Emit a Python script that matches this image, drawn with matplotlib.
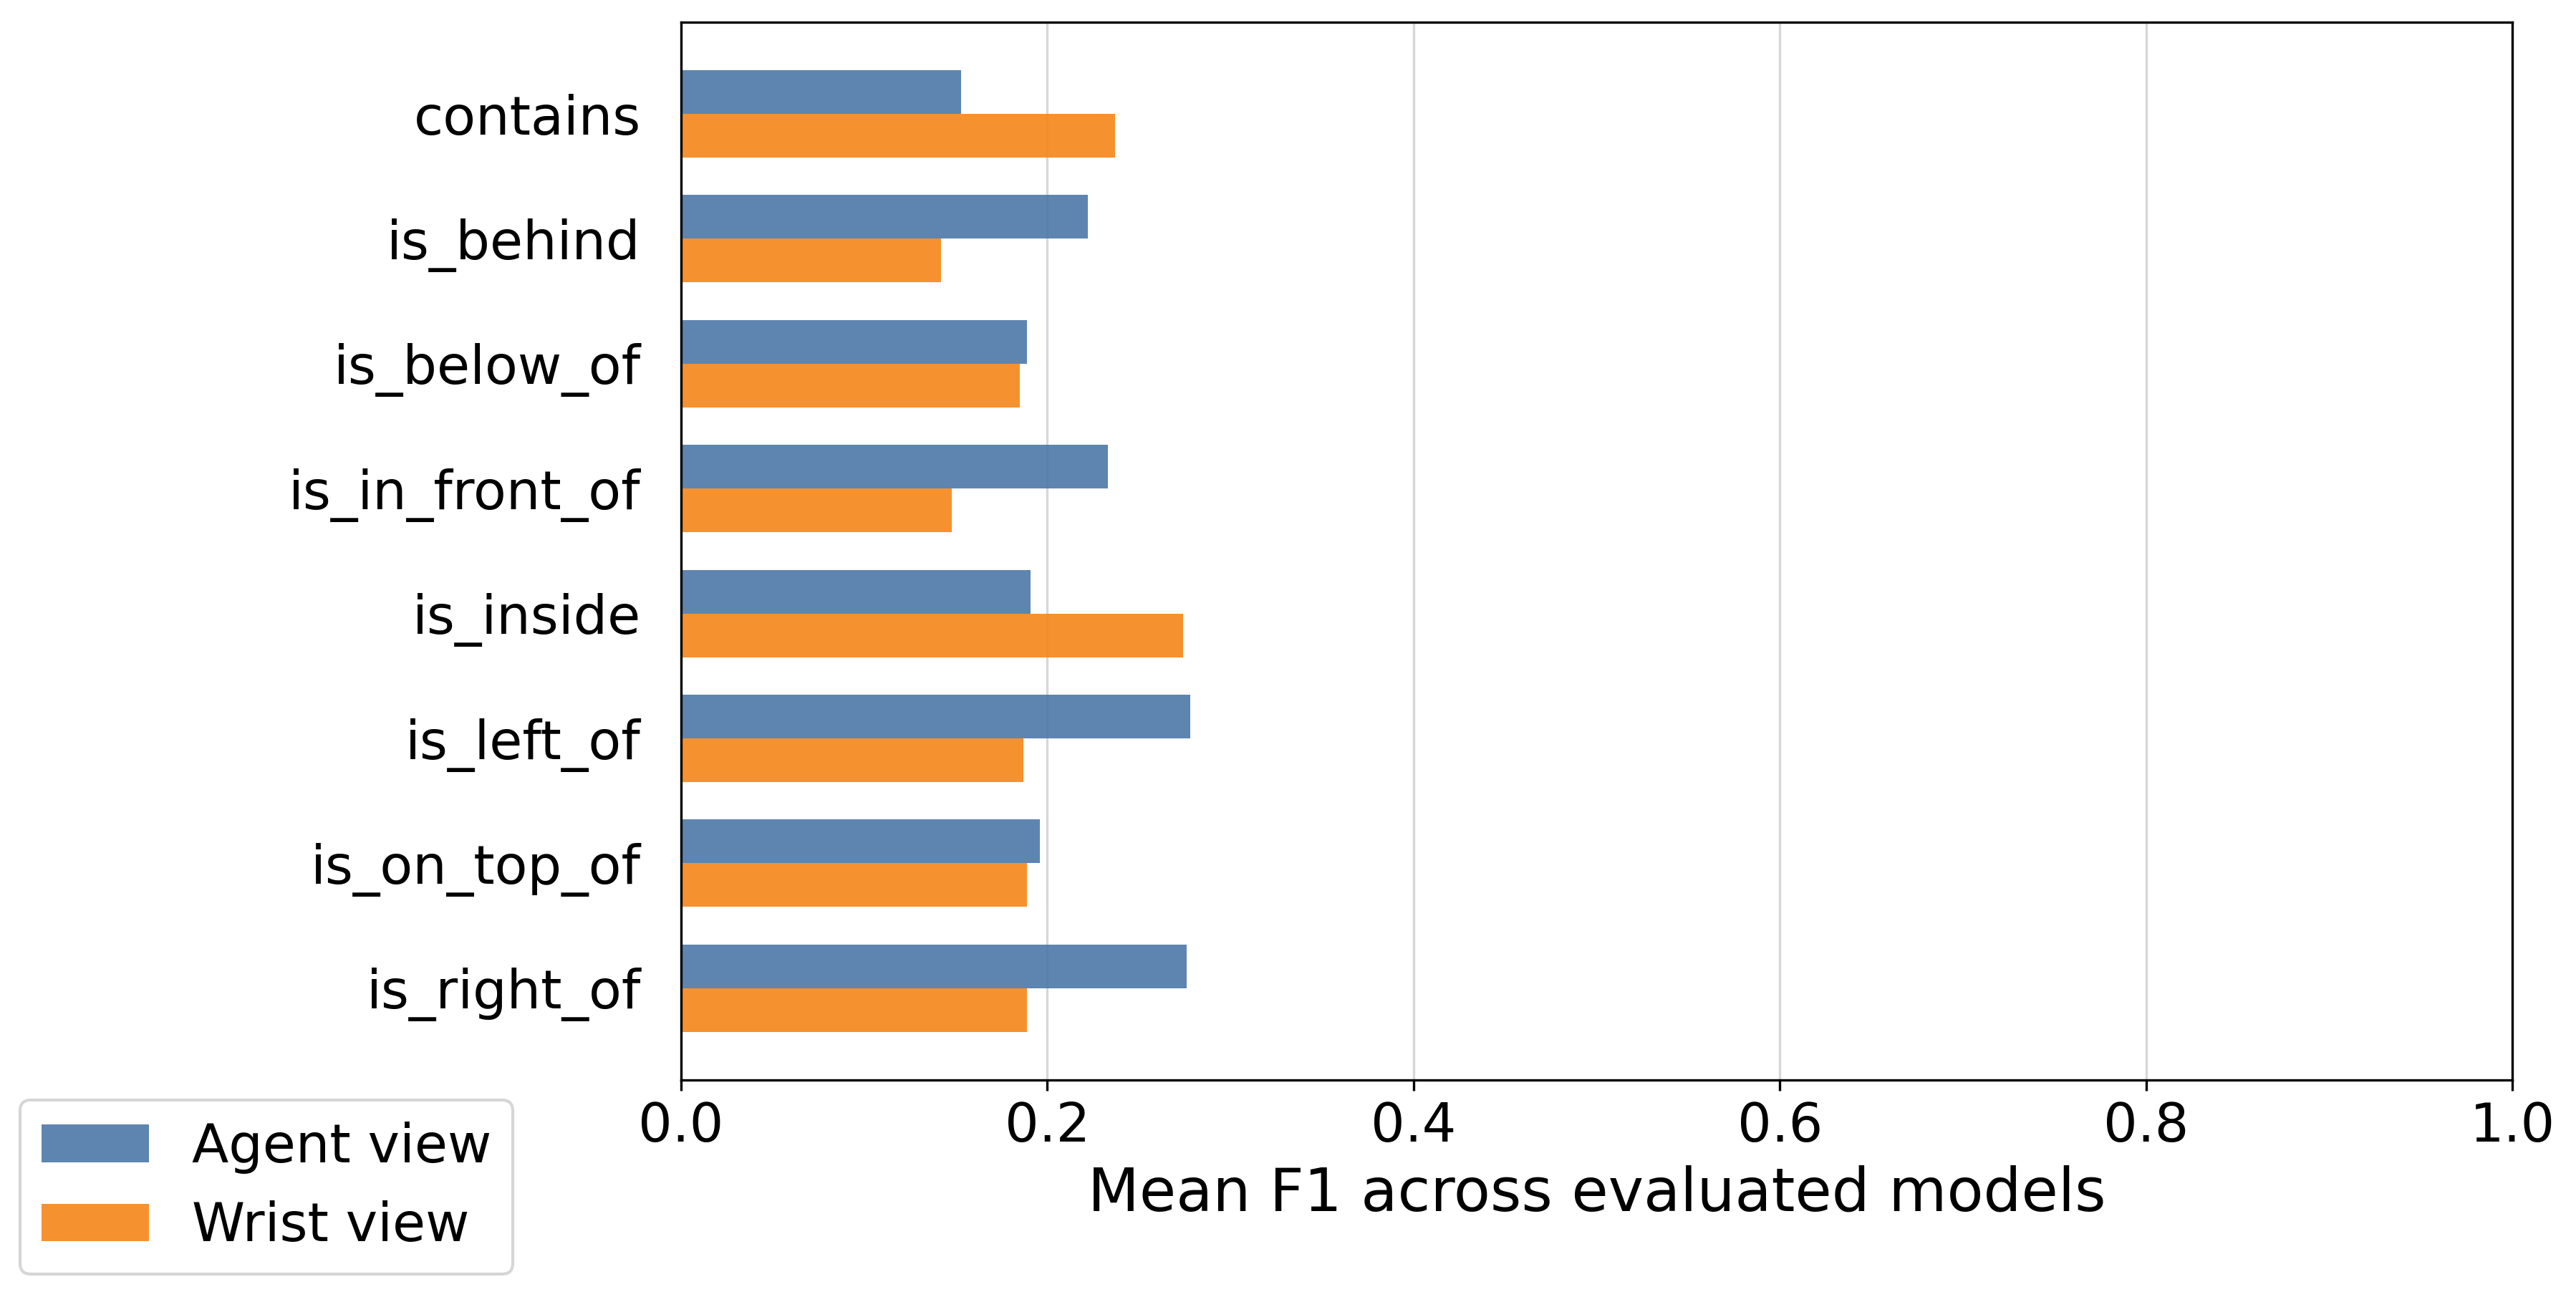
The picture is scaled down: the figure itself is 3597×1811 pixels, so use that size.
import numpy as np
import matplotlib
matplotlib.use("Agg")
import matplotlib.pyplot as plt

# relation categories, top to bottom
relations = ["contains", "is_behind", "is_below_of", "is_in_front_of",
             "is_inside", "is_left_of", "is_on_top_of", "is_right_of"]

# mean F1 per view
agent_f1 = [0.153, 0.222, 0.189, 0.233, 0.191, 0.278, 0.196, 0.276]
wrist_f1 = [0.237, 0.142, 0.185, 0.148, 0.274, 0.187, 0.189, 0.189]

series_labels = ["Agent view", "Wrist view"]

fig, ax = plt.subplots(figsize=(11.99, 6.037), dpi=300)
fig.subplots_adjust(left=0.2644, right=0.9753, top=0.9829, bottom=0.1673)

y = np.arange(len(relations))
h = 0.35
ax.barh(y - h / 2, agent_f1, height=h, color="#4C78A8", alpha=0.9,
        label=series_labels[0])
ax.barh(y + h / 2, wrist_f1, height=h, color="#F58518", alpha=0.9,
        label=series_labels[1])

ax.set_yticks(y)
ax.set_yticklabels(relations, fontsize=18)
ax.tick_params(axis="y", length=0, pad=13.5)
ax.invert_yaxis()
ax.set_xlim(0, 1)
ax.tick_params(axis="x", labelsize=18)
ax.set_xlabel("Mean F1 across evaluated models", fontsize=20)
ax.set_axisbelow(True)
ax.grid(axis="x", alpha=0.5)

fig.legend(loc="lower left", bbox_to_anchor=(0.0077, 0.0176),
           borderaxespad=0, fontsize=18)

fig.savefig("out.png", dpi=300)
